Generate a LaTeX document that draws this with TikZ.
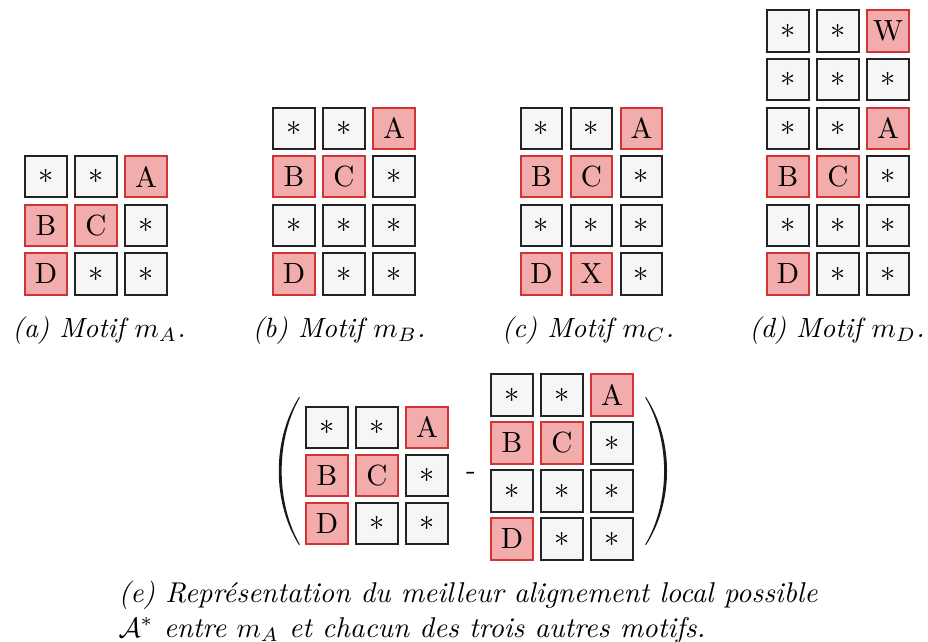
\documentclass[tikz,border=0pt]{standalone}
\usepackage{amsmath}
\usepackage{fontspec}
\definecolor{cellfill}{RGB}{246,246,246}
\definecolor{celldraw}{RGB}{35,35,35}
\definecolor{redfill}{RGB}{242,172,172}
\definecolor{reddraw}{RGB}{208,52,52}
\newcommand\gridrow[9]{%
  \node[#4] (#1-1) at (#2,#3) {#5};
  \node[#6] (#1-2) at ({#2+50},#3) {#7};
  \node[#8] (#1-3) at ({#2+100},#3) {#9};}
\begin{document}
\begin{tikzpicture}[x=0.36pt,y=-0.36pt,
  nc/.style={draw=celldraw, fill=cellfill, line width=0.7pt, minimum size=14.8pt, inner sep=0pt, font=\fontsize{10.5}{12}\selectfont},
  hc/.style={nc, draw=reddraw, fill=redfill},
  capt/.style={anchor=base, inner sep=0pt, font=\fontsize{10}{12}\selectfont\itshape},
  capl/.style={anchor=base west, inner sep=0pt, font=\fontsize{10.3}{12}\selectfont\itshape},
  paren/.style={fill=black!90}]
\useasboundingbox (0,0) rectangle (928,641);
% (a)
\gridrow{a1}{46}{176.8}{nc}{$*$}{nc}{$*$}{hc}{A}
\gridrow{a2}{46}{225.4}{hc}{B}{hc}{C}{nc}{$*$}
\gridrow{a3}{46}{274}{hc}{D}{nc}{$*$}{nc}{$*$}
% (b)
\gridrow{b1}{294}{128.2}{nc}{$*$}{nc}{$*$}{hc}{A}
\gridrow{b2}{294}{176.8}{hc}{B}{hc}{C}{nc}{$*$}
\gridrow{b3}{294}{225.4}{nc}{$*$}{nc}{$*$}{nc}{$*$}
\gridrow{b4}{294}{274}{hc}{D}{nc}{$*$}{nc}{$*$}
% (c)
\gridrow{c1}{541.5}{128.2}{nc}{$*$}{nc}{$*$}{hc}{A}
\gridrow{c2}{541.5}{176.8}{hc}{B}{hc}{C}{nc}{$*$}
\gridrow{c3}{541.5}{225.4}{nc}{$*$}{nc}{$*$}{nc}{$*$}
\gridrow{c4}{541.5}{274}{hc}{D}{hc}{X}{nc}{$*$}
% (d)
\gridrow{d1}{788}{31}{nc}{$*$}{nc}{$*$}{hc}{W}
\gridrow{d2}{788}{79.6}{nc}{$*$}{nc}{$*$}{nc}{$*$}
\gridrow{d3}{788}{128.2}{nc}{$*$}{nc}{$*$}{hc}{A}
\gridrow{d4}{788}{176.8}{hc}{B}{hc}{C}{nc}{$*$}
\gridrow{d5}{788}{225.4}{nc}{$*$}{nc}{$*$}{nc}{$*$}
\gridrow{d6}{788}{274}{hc}{D}{nc}{$*$}{nc}{$*$}
% captions
\node[capt] (capa) at (99,337) {(a) Motif $m_A$.};
\node[capt] (capb) at (339,337) {(b) Motif $m_B$.};
\node[capt] (capc) at (588,337) {(c) Motif $m_C$.};
\node[capt] (capd) at (837,337) {(d) Motif $m_D$.};
% (e) left matrix
\gridrow{el1}{327}{427.5}{nc}{$*$}{nc}{$*$}{hc}{A}
\gridrow{el2}{327}{475.5}{hc}{B}{hc}{C}{nc}{$*$}
\gridrow{el3}{327}{523.5}{hc}{D}{nc}{$*$}{nc}{$*$}
% (e) right matrix
\gridrow{er1}{512}{395}{nc}{$*$}{nc}{$*$}{hc}{A}
\gridrow{er2}{512}{443}{hc}{B}{hc}{C}{nc}{$*$}
\gridrow{er3}{512}{491}{nc}{$*$}{nc}{$*$}{nc}{$*$}
\gridrow{er4}{512}{539}{hc}{D}{nc}{$*$}{nc}{$*$}
\node[inner sep=0pt, font=\fontsize{10.5}{12}\selectfont] (minus) at (471,476) {-};
% parentheses
\fill[paren] (299,397) .. controls (272,440) and (272,502) .. (299,545)
  -- (299.8,544.5) .. controls (275.6,502) and (275.6,440) .. (299.8,397.5) -- cycle;
\fill[paren] (646,397) .. controls (674,440) and (674,502) .. (646,545)
  -- (645.2,544.5) .. controls (670.4,502) and (670.4,440) .. (645.2,397.5) -- cycle;
% caption (e)
\node[capl] (cape1) at (118,602) {(e) Représentation du meilleur alignement local possible};
\node[capl] (cape2) at (118,637) {$\mathcal{A}^*$ entre $m_A$ et chacun des trois autres motifs.};
\end{tikzpicture}
\end{document}
